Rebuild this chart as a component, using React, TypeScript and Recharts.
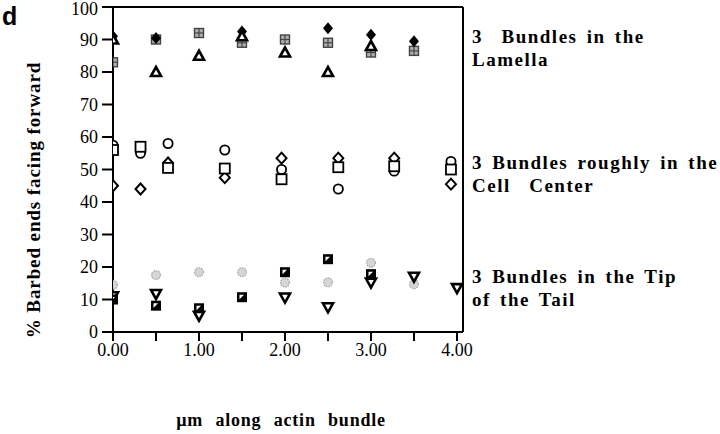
import React from 'react';
import { ScatterChart, Scatter, XAxis, YAxis, ReferenceLine } from 'recharts';

// ---- data ----
const lamellaDiamondX = [0, 0.5, 1.5, 2.5, 3, 3.5];
const lamellaDiamondY = [91, 90.5, 92.5, 93.5, 91.5, 89.5];
const lamellaTriangleX = [0, 0.5, 1, 1.5, 2, 2.5, 3];
const lamellaTriangleY = [90, 80, 85, 91, 86, 80, 88];
const lamellaHatchX = [0, 0.5, 1, 1.5, 2, 2.5, 3, 3.5];
const lamellaHatchY = [83, 90, 92, 89, 90, 89, 86, 86.5];

const centerX = [0, 0.32, 0.64, 1.3, 1.96, 2.62, 3.27, 3.93];
const centerSquareY = [56, 57, 50.5, 50.3, 47, 50.7, 51, 50];
const centerCircleY = [57.5, 55, 58, 56, 50, 44, 49.5, 52.5];
const centerDiamondY = [45, 44, 52, 47.5, 53.5, 53.5, 53.5, 45.5];

const tipStippleX = [0, 0.5, 1, 1.5, 2, 2.5, 3, 3.5];
const tipStippleY = [14.5, 17.5, 18.4, 18.4, 15.2, 15.3, 21.3, 14.7];
const tipHalfX = [0, 0.5, 1, 1.5, 2, 2.5, 3];
const tipHalfY = [10, 8.1, 7.3, 10.7, 18.4, 22.4, 17.8];
const tipTriX = [0, 0.5, 1, 2, 2.5, 3, 3.5, 4];
const tipTriY = [11, 11.7, 5, 10.6, 7.6, 15.2, 17, 13.5];

const xTicks = [0, 0.5, 1, 1.5, 2, 2.5, 3, 3.5, 4];
const yTicks = [0, 10, 20, 30, 40, 50, 60, 70, 80, 90, 100];

const zip = (xs: number[], ys: number[]) => xs.map((x, i) => ({ x, y: ys[i] }));

const SERIF = 'Liberation Serif';

// ---- markers ----
const FilledDiamond = ({ cx, cy }: any) => (
  <polygon points={`${cx},${cy - 6} ${cx + 5},${cy} ${cx},${cy + 6} ${cx - 5},${cy}`} fill="#000" />
);
const TriUp = ({ cx, cy }: any) => (
  <polygon
    points={`${cx},${cy - 5} ${cx + 5},${cy + 4} ${cx - 5},${cy + 4}`}
    fill="#fff" stroke="#000" strokeWidth={2.6} strokeLinejoin="miter"
  />
);
const TriDown = ({ cx, cy }: any) => (
  <polygon
    points={`${cx - 5},${cy - 4} ${cx + 5},${cy - 4} ${cx},${cy + 5}`}
    fill="#fff" stroke="#000" strokeWidth={2.6} strokeLinejoin="miter"
  />
);
const Hatched = ({ cx, cy }: any) => (
  <g>
    <rect x={cx - 4.5} y={cy - 4.5} width={9} height={9} fill="#b0b0b0" stroke="#444" strokeWidth={1.4} />
    <line x1={cx} y1={cy - 4.5} x2={cx} y2={cy + 4.5} stroke="#444" strokeWidth={1.2} />
    <line x1={cx - 4.5} y1={cy} x2={cx + 4.5} y2={cy} stroke="#444" strokeWidth={1.2} />
  </g>
);
const OpenSquare = ({ cx, cy }: any) => (
  <rect x={cx - 5} y={cy - 5} width={10} height={10} fill="#fff" stroke="#000" strokeWidth={1.8} />
);
const OpenCircle = ({ cx, cy }: any) => (
  <circle cx={cx} cy={cy} r={4.6} fill="#fff" stroke="#000" strokeWidth={1.8} />
);
const OpenDiamond = ({ cx, cy }: any) => (
  <polygon
    points={`${cx},${cy - 5.5} ${cx + 5},${cy} ${cx},${cy + 5.5} ${cx - 5},${cy}`}
    fill="#fff" stroke="#000" strokeWidth={2}
  />
);
const Stipple = ({ cx, cy }: any) => (
  <circle cx={cx} cy={cy} r={4.4} fill="#d6d6d6" stroke="#a8a8a8" strokeWidth={1.3} strokeDasharray="1.5 1" />
);
const HalfSquare = ({ cx, cy }: any) => (
  <g>
    <rect x={cx - 5} y={cy - 5} width={10} height={10} fill="#000" />
    <polygon points={`${cx - 2.5},${cy - 2.5} ${cx + 2},${cy - 2.5} ${cx - 2.5},${cy + 2}`} fill="#fff" />
  </g>
);

const XTick = ({ x, y, payload }: any) => {
  const v = payload.value;
  if (Math.abs(v - Math.round(v)) > 1e-6) return null;
  return (
    <text x={x} y={y + 12} textAnchor="middle" fontFamily={SERIF} fontSize={18} fill="#000">
      {v.toFixed(2)}
    </text>
  );
};

const YTick = ({ x, y, payload }: any) => (
  <text x={x} y={Math.max(y + 6, 15)} textAnchor="end" fontFamily={SERIF} fontSize={18} fill="#000">
    {payload.value}
  </text>
);

export default function App() {
  return (
    <div style={{ position: 'absolute', left: 0, top: 0, width: 720, height: 434, background: '#fff' }}>
      <ScatterChart
        width={720}
        height={434}
        margin={{ top: 7, right: 257, bottom: 0, left: 0 }}
      >
        <XAxis
          type="number"
          dataKey="x"
          domain={[0, 4.07]}
          ticks={xTicks}
          interval={0}
          tickSize={9}
          tickMargin={3}
          height={102}
          axisLine={{ stroke: '#000', strokeWidth: 2 }}
          tickLine={{ stroke: '#000', strokeWidth: 2 }}
          tick={<XTick />}
          allowDataOverflow
        />
        <YAxis
          type="number"
          dataKey="y"
          domain={[0, 100]}
          ticks={yTicks}
          interval={0}
          width={113}
          tickSize={11}
          tickMargin={4}
          axisLine={{ stroke: '#000', strokeWidth: 2 }}
          tickLine={{ stroke: '#000', strokeWidth: 2 }}
          tick={<YTick />}
          allowDataOverflow
        />
        <ReferenceLine y={100} stroke="#000" strokeWidth={2} />
        <ReferenceLine x={4.07} stroke="#000" strokeWidth={2} />

        <Scatter data={zip(lamellaHatchX, lamellaHatchY)} shape={(p: any) => <Hatched cx={p.cx} cy={p.cy} />} isAnimationActive={false} />
        <Scatter data={zip(lamellaDiamondX, lamellaDiamondY)} shape={(p: any) => <FilledDiamond cx={p.cx} cy={p.cy} />} isAnimationActive={false} />
        <Scatter data={zip(lamellaTriangleX, lamellaTriangleY)} shape={(p: any) => <TriUp cx={p.cx} cy={p.cy} />} isAnimationActive={false} />

        <Scatter data={zip(centerX, centerDiamondY)} shape={(p: any) => <OpenDiamond cx={p.cx} cy={p.cy} />} isAnimationActive={false} />
        <Scatter data={zip(centerX, centerCircleY)} shape={(p: any) => <OpenCircle cx={p.cx} cy={p.cy} />} isAnimationActive={false} />
        <Scatter data={zip(centerX, centerSquareY)} shape={(p: any) => <OpenSquare cx={p.cx} cy={p.cy} />} isAnimationActive={false} />

        <Scatter data={zip(tipStippleX, tipStippleY)} shape={(p: any) => <Stipple cx={p.cx} cy={p.cy} />} isAnimationActive={false} />
        <Scatter data={zip(tipTriX, tipTriY)} shape={(p: any) => <TriDown cx={p.cx} cy={p.cy} />} isAnimationActive={false} />
        <Scatter data={zip(tipHalfX, tipHalfY)} shape={(p: any) => <HalfSquare cx={p.cx} cy={p.cy} />} isAnimationActive={false} />
      </ScatterChart>

      <svg width={720} height={434} style={{ position: 'absolute', left: 0, top: 0, pointerEvents: 'none' }}>
        <text x={2} y={25} fontFamily="Liberation Sans" fontWeight="bold" fontSize={25} fill="#000">d</text>
        <text
          x={40} y={200} transform="rotate(-90, 40, 200)" textAnchor="middle"
          fontFamily={SERIF} fontWeight="bold" fontSize={19} letterSpacing={0.9} fill="#000"
        >
          % Barbed ends facing forward
        </text>
        <text x={281} y={426} textAnchor="middle" fontFamily={SERIF} fontWeight="bold" fontSize={18} wordSpacing={7} letterSpacing={0.8} fill="#000">
          µm along actin bundle
        </text>
        <g fontFamily={SERIF} fontWeight="bold" fontSize={19} letterSpacing={1.5} wordSpacing={3} fill="#000">
          <text x={472} y={43} xmlSpace="preserve">3  Bundles in the</text>
          <text x={472} y={66}>Lamella</text>
          <text x={472} y={169}>3 Bundles roughly in the</text>
          <text x={472} y={192} xmlSpace="preserve">Cell  Center</text>
          <text x={472} y={283}>3 Bundles in the Tip</text>
          <text x={472} y={306}>of the Tail</text>
        </g>
      </svg>
    </div>
  );
}
